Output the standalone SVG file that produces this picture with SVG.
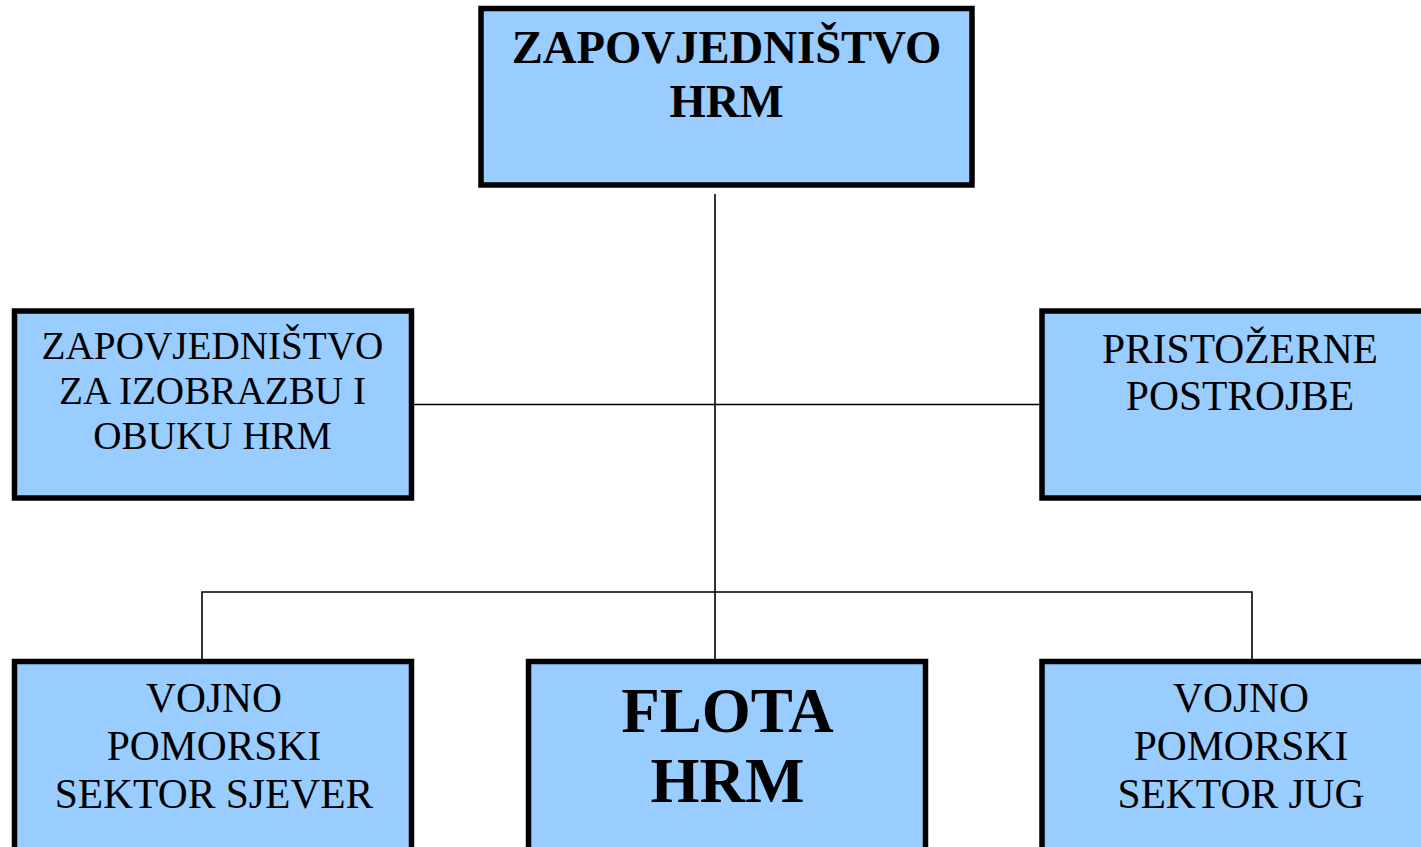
<svg xmlns="http://www.w3.org/2000/svg" width="1421" height="847" viewBox="0 0 1421 847">
<style>
.box{fill:#99CCFF;stroke:#000;stroke-width:5.5}
.conn{fill:none;stroke:#000;stroke-width:1.6}
text{font-family:"Liberation Serif","Times New Roman",serif;fill:#000;text-anchor:middle}
.b{font-weight:bold}
.m{font-size:41.5px}
</style>
<rect width="1421" height="847" fill="#fff"/>
<g id="connectors">
<line class="conn" x1="715" y1="194" x2="715" y2="661"/>
<line class="conn" x1="414" y1="404.5" x2="1040" y2="404.5"/>
<polyline class="conn" points="202,661 202,592 1252,592 1252,661"/>
</g>
<g id="zapovjednistvo-hrm">
<rect class="box" x="481" y="8.5" width="491" height="176.5"/>
<text class="b" x="726.5" y="63" font-size="46.7">ZAPOVJEDNIŠTVO</text>
<text class="b" x="726.5" y="117" font-size="46.7">HRM</text>
</g>
<g id="zapovjednistvo-izobrazba">
<rect class="box" x="14.5" y="311" width="397" height="187"/>
<text x="212.5" y="359" font-size="39.2">ZAPOVJEDNIŠTVO</text>
<text x="212.5" y="404" font-size="39.2">ZA IZOBRAZBU I</text>
<text x="212.5" y="449" font-size="39.2">OBUKU HRM</text>
</g>
<g id="pristozerne-postrojbe">
<rect class="box" x="1042" y="311" width="397" height="187"/>
<text class="m" x="1240" y="363">PRISTOŽERNE</text>
<text class="m" x="1240" y="410">POSTROJBE</text>
</g>
<g id="vps-sjever">
<rect class="box" x="14.5" y="661.5" width="397" height="200"/>
<text class="m" x="214" y="712">VOJNO</text>
<text class="m" x="214" y="760">POMORSKI</text>
<text class="m" x="214" y="808">SEKTOR SJEVER</text>
</g>
<g id="flota-hrm">
<rect class="box" x="528.5" y="661.5" width="397" height="200"/>
<text class="b" x="727.5" y="732" font-size="63">FLOTA</text>
<text class="b" x="727.5" y="802" font-size="63">HRM</text>
</g>
<g id="vps-jug">
<rect class="box" x="1042" y="661.5" width="397" height="200"/>
<text class="m" x="1241" y="712">VOJNO</text>
<text class="m" x="1241" y="760">POMORSKI</text>
<text class="m" x="1241" y="808">SEKTOR JUG</text>
</g>
</svg>
